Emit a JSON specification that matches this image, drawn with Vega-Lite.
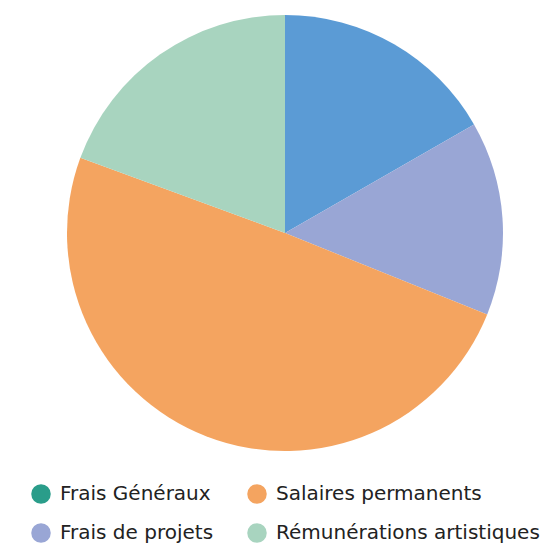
{
  "$schema": "https://vega.github.io/schema/vega-lite/v6.json",
  "width": 436,
  "height": 436,
  "autosize": "none",
  "padding": {"left": 67, "top": 15, "right": 41, "bottom": 94},
  "background": "white",
  "data": {
    "values": [
      {"poste": "Frais Généraux", "part": 16.7, "ordre": 1},
      {"poste": "Frais de projets", "part": 14.4, "ordre": 2},
      {"poste": "Salaires permanents", "part": 49.5, "ordre": 3},
      {"poste": "Rémunérations artistiques", "part": 19.4, "ordre": 4}
    ]
  },
  "encoding": {
    "theta": {"field": "part", "type": "quantitative", "stack": true},
    "order": {"field": "ordre", "type": "ordinal"}
  },
  "layer": [
    {
      "mark": {"type": "arc", "outerRadius": 1},
      "encoding": {
        "color": {
          "field": "poste",
          "type": "nominal",
          "scale": {
            "domain": ["Frais Généraux", "Frais de projets", "Salaires permanents", "Rémunérations artistiques"],
            "range": ["#2a9d8a", "#99a6d5", "#f4a460", "#a8d4bf"]
          },
          "legend": {
            "title": null,
            "orient": "none",
            "legendX": -36,
            "legendY": 469,
            "columns": 2,
            "columnPadding": 33,
            "rowPadding": 19,
            "symbolType": "circle",
            "symbolSize": 380,
            "symbolStrokeWidth": 0,
            "symbolOpacity": 1,
            "labelFont": "DejaVu Sans",
            "labelFontSize": 20,
            "labelColor": "#222222",
            "labelOffset": 9,
            "labelLimit": 300
          }
        }
      }
    },
    {
      "mark": {"type": "arc", "outerRadius": 218},
      "encoding": {
        "fill": {
          "field": "poste",
          "type": "nominal",
          "scale": {
            "domain": ["Frais Généraux", "Frais de projets", "Salaires permanents", "Rémunérations artistiques"],
            "range": ["#5b9bd5", "#99a6d5", "#f4a460", "#a8d4bf"]
          },
          "legend": null
        }
      }
    }
  ],
  "config": {"view": {"stroke": null}}
}
